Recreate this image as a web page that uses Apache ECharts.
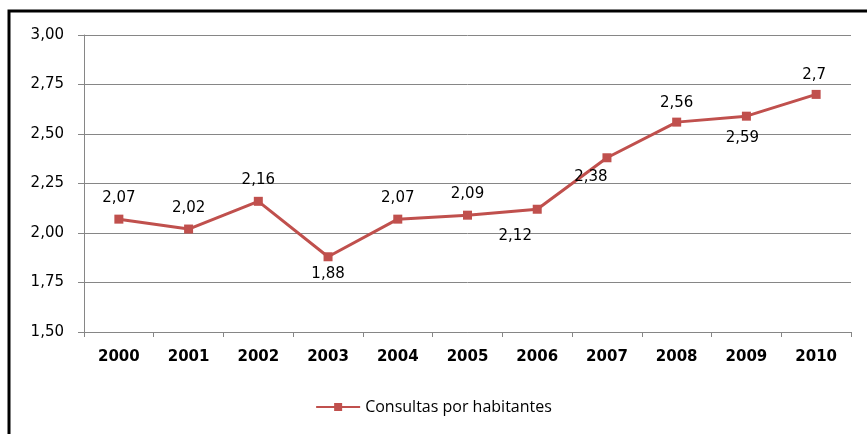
<!DOCTYPE html>
<html>
<head>
<meta charset="utf-8">
<script src="https://cdn.jsdelivr.net/npm/echarts@6/dist/echarts.min.js"></script>
<style>
html,body{margin:0;padding:0;background:#fff;}
#main{width:867px;height:434px;}
</style>
</head>
<body>
<div id="main"></div>
<script>
var years = ['2000','2001','2002','2003','2004','2005','2006','2007','2008','2009','2010'];
var consultas = [2.07, 2.02, 2.16, 1.88, 2.07, 2.09, 2.12, 2.38, 2.56, 2.59, 2.7];
var labelTexts = ['2,07','2,02','2,16','1,88','2,07','2,09','2,12','2,38','2,56','2,59','2,7'];

// where each value label sits, relative to its point
var labelPlace = [
    {position: 'top', offset: [0, -4]},
    {position: 'top', offset: [0, -4]},
    {position: 'top', offset: [0, -4]},
    {position: 'bottom', offset: [0, 0]},
    {position: 'top', offset: [0, -4]},
    {position: 'top', offset: [0, -4]},
    {position: 'bottom', offset: [-22, 10]},
    {position: 'bottom', offset: [-16, 2]},
    {position: 'top', offset: [0, -2]},
    {position: 'bottom', offset: [-4, 5]},
    {position: 'top', offset: [-2, -2]}
];

var seriesData = [];
for (var i = 0; i < consultas.length; i++) {
    seriesData.push({
        value: consultas[i],
        label: {
            position: labelPlace[i].position,
            offset: labelPlace[i].offset,
            formatter: labelTexts[i]
        }
    });
}

var myChart = echarts.init(document.getElementById('main'));
var option = {
    animation: false,
    backgroundColor: '#fff',
    textStyle: {fontFamily: 'Open Sans'},
    graphic: [
        {
            type: 'rect',
            shape: {x: 9, y: 11, width: 900, height: 450},
            style: {fill: 'none', stroke: '#000', lineWidth: 3}
        }
    ],
    grid: {left: 84, right: 16, top: 35, bottom: 102},
    legend: {
        bottom: 14,
        left: 'center',
        itemWidth: 44,
        itemHeight: 10,
        itemGap: 4,
        textStyle: {fontSize: 16, color: '#000', fontFamily: 'Open Sans'},
        data: ['Consultas por habitantes']
    },
    xAxis: {
        type: 'category',
        data: years,
        boundaryGap: true,
        axisLine: {lineStyle: {color: '#868686', width: 1}},
        axisTick: {show: true, length: 5, lineStyle: {color: '#868686'}},
        axisLabel: {color: '#000', fontSize: 15, fontWeight: 'bold', margin: 18, fontFamily: 'DejaVu Sans'}
    },
    yAxis: {
        type: 'value',
        min: 1.5,
        max: 3,
        interval: 0.25,
        axisLine: {show: true, lineStyle: {color: '#868686', width: 1}},
        axisTick: {show: true, length: 6, lineStyle: {color: '#868686'}},
        splitLine: {lineStyle: {color: '#868686', width: 1}},
        axisLabel: {
            color: '#000', fontSize: 15, margin: 20, fontFamily: 'DejaVu Sans',
            formatter: function (v) { return v.toFixed(2).replace('.', ','); }
        }
    },
    series: [
        {
            name: 'Consultas por habitantes',
            type: 'line',
            data: seriesData,
            symbol: 'rect',
            symbolSize: 9,
            itemStyle: {color: '#C0504D'},
            lineStyle: {color: '#C0504D', width: 3},
            label: {show: true, color: '#000', fontSize: 15, fontFamily: 'DejaVu Sans'}
        }
    ]
};
myChart.setOption(option);
</script>
</body>
</html>
